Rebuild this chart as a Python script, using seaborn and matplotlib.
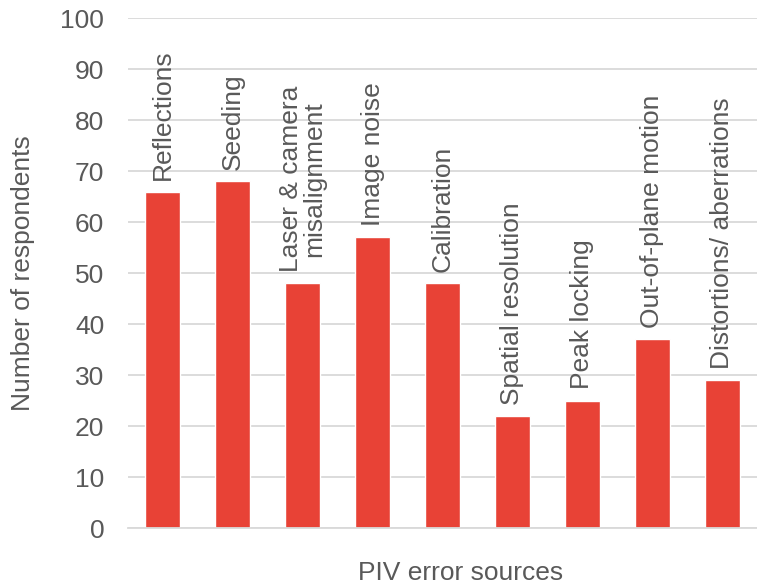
import matplotlib
matplotlib.use('Agg')
import matplotlib.pyplot as plt
import pandas as pd
import seaborn as sns

sources = ['Reflections', 'Seeding', 'Laser & camera\nmisalignment', 'Image noise',
           'Calibration', 'Spatial resolution', 'Peak locking',
           'Out-of-plane motion', 'Distortions/ aberrations']
respondents = [66, 68, 48, 57, 48, 22, 25, 37, 29]

BAR_COLOR = '#E84236'
TEXT_COLOR = '#595959'
GRID_COLOR = '#D9D9D9'
FS = 19

df = pd.DataFrame({'source': sources, 'count': respondents})

sns.set_style('white')
plt.rcParams['font.family'] = ['Liberation Sans', 'DejaVu Sans']

fig = plt.figure(figsize=(7.57, 5.87), dpi=100)
ax = fig.add_axes([0.169, 0.1005, 0.831, 0.8685])

sns.barplot(data=df, x='source', y='count', color=BAR_COLOR, width=0.5,
            saturation=1, ax=ax)

# labels above each bar, rotated
for i, (name, val) in enumerate(zip(sources, respondents)):
    ax.annotate(name, xy=(i, val), xytext=(0, 8), textcoords='offset points',
                rotation=90, ha='center', va='bottom', fontsize=FS,
                color=TEXT_COLOR, multialignment='center', linespacing=0.95)

ax.set_ylim(0, 100)
ax.set_xlim(-0.5, len(sources) - 0.5)
ax.set_yticks(range(0, 101, 10))
ax.set_xticks([])
ax.tick_params(axis='y', labelsize=FS, colors=TEXT_COLOR, length=0, pad=17)
ax.yaxis.grid(True, color=GRID_COLOR, linewidth=1.3)
ax.set_axisbelow(True)
for side in ('top', 'right', 'left'):
    ax.spines[side].set_visible(False)
ax.spines['bottom'].set_color(GRID_COLOR)
ax.spines['bottom'].set_linewidth(1.3)

ax.set_xlabel('PIV error sources', fontsize=FS, color=TEXT_COLOR, labelpad=23)
ax.xaxis.set_label_coords(0.528, -0.065, transform=ax.transAxes)
ax.xaxis.label.set_va('top')
ax.set_ylabel('Number of respondents', fontsize=FS, color=TEXT_COLOR, labelpad=18)

fig.savefig('out.png', dpi=100)
